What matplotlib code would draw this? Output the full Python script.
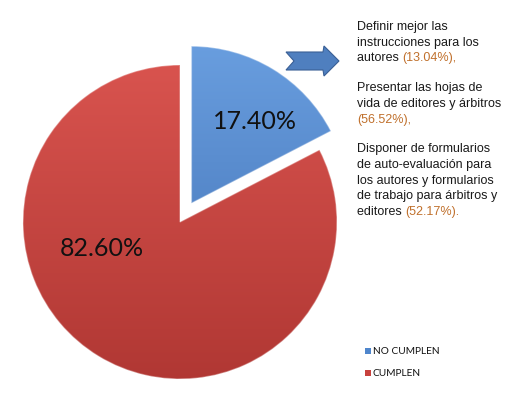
import matplotlib
matplotlib.use("Agg")
import matplotlib.pyplot as plt
from matplotlib.patches import Polygon, Rectangle
from matplotlib.colors import LinearSegmentedColormap
import numpy as np

# data
categories = ["NO CUMPLEN", "CUMPLEN"]
values = [17.40, 82.60]
pct_labels = ["17.40%", "82.60%"]
colors = ["#4f86cc", "#c8413d"]
grad = [("#6a9fe0", "#3b6aae"), ("#dc5651", "#ad3531")]

# notes on the right: list of (text, color) pieces per line
black = "#1a1a1a"
orange = "#c0702c"
notes = [
    [("Definir mejor las", black)],
    [("instrucciones para los", black)],
    [("autores ", black), ("(13.04%),", orange)],
    None,
    [("Presentar las hojas de", black)],
    [("vida de editores y árbitros", black)],
    [("(56.52%),", orange)],
    None,
    [("Disponer de formularios", black)],
    [("de auto-evaluación para", black)],
    [("los autores y formularios", black)],
    [("de trabajo para árbitros y", black)],
    [("editores ", black), ("(52.17%).", orange)],
]

W, H = 506, 394
fig = plt.figure(figsize=(W / 100, H / 100), dpi=100)
ax = fig.add_axes([0, 0, 1, 1])

# pie (y axis inverted, so counterclock=True runs clockwise on screen)
cx, cy, r = 180, 222, 157
wedges, _ = ax.pie(values, explode=[22, 0], startangle=-90,
                   counterclock=True, center=(cx, cy), radius=r,
                   colors=colors, frame=True,
                   wedgeprops=dict(linewidth=1.0, edgecolor="white"))
ax.set_xlim(0, W)
ax.set_ylim(H, 0)
ax.set_aspect("auto")
ax.axis("off")

# vertical gradient shading clipped to each wedge
g = np.linspace(0, 1, 256).reshape(-1, 1)
for w, (c1, c2) in zip(wedges, grad):
    cmap = LinearSegmentedColormap.from_list("g", [c1, c2])
    im = ax.imshow(g, cmap=cmap, aspect="auto",
                   extent=(cx - r - 30, cx + r + 30, cy + r + 30, cy - r - 30),
                   zorder=w.get_zorder() + 0.1)
    im.set_clip_path(w)
    w.set_edgecolor((1, 1, 1, 0.35))
    w.set_zorder(w.get_zorder() + 0.2)
    w.set_facecolor("none")
ax.set_xlim(0, W)
ax.set_ylim(H, 0)

ax.text(255, 121, pct_labels[0], fontsize=18, family="Lato",
        ha="center", va="center", color="#111111", zorder=5)
ax.text(102, 249, pct_labels[1], fontsize=18, family="Lato",
        ha="center", va="center", color="#111111", zorder=5)

# block arrow
arrow = Polygon([(286, 52), (323, 52), (324, 46), (339, 61), (324, 76),
                 (323, 70), (286, 70), (294, 61)],
                closed=True, facecolor="#4f7fbf", edgecolor="#3a5f95",
                linewidth=0.8, zorder=4)
ax.add_patch(arrow)

# notes text
y = 27
for line in notes:
    if line is None:
        y += 14
        continue
    prev = None
    for txt, col in line:
        if prev is None:
            prev = ax.text(357, y, txt, fontsize=9, family="Liberation Sans",
                           color=col, va="center", ha="left")
        else:
            prev = ax.annotate(txt, xy=(1, 0.5), xycoords=prev,
                               fontsize=9, family="Liberation Sans",
                               color=col, va="center", ha="left")
    y += 15.7

# legend
for i, (name, col) in enumerate(zip(categories, colors)):
    ly = 351 + i * 22
    ax.add_patch(Rectangle((365, ly - 3), 6, 6, facecolor=col,
                           edgecolor="none", zorder=4))
    ax.text(373, ly, name, fontsize=7.3, family="Lato", va="center",
            ha="left", color="#111111")

fig.savefig("out.png", dpi=100)
